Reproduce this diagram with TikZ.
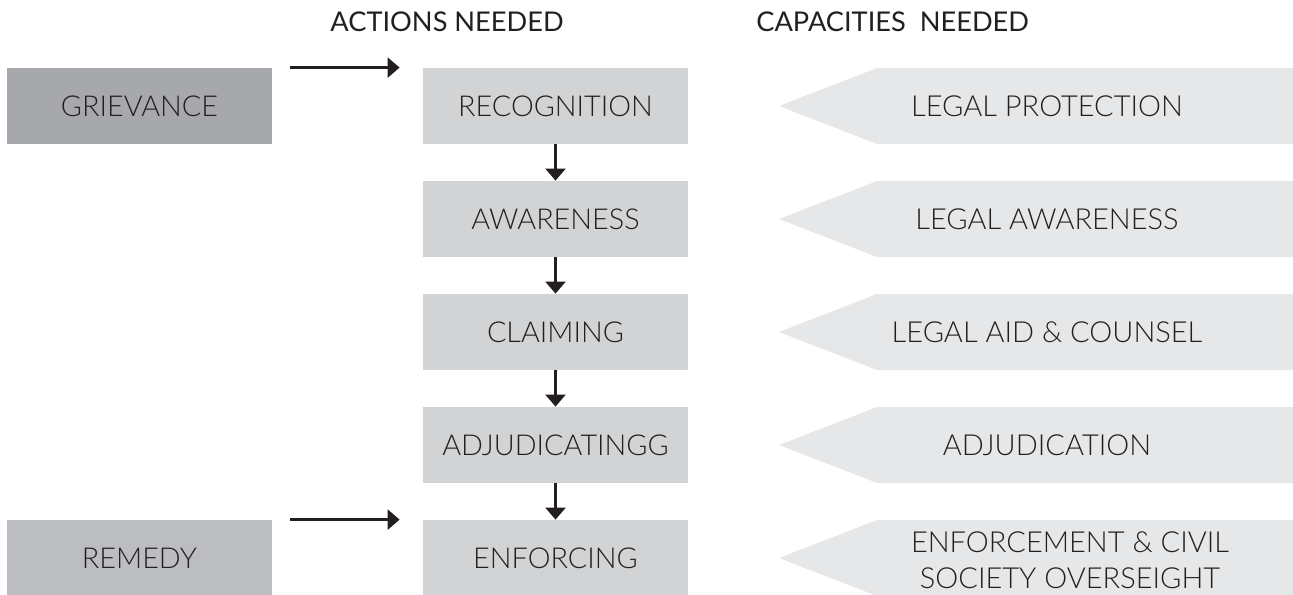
\documentclass[tikz,border=0pt]{standalone}
\usepackage{fontspec}
\setmainfont{Lato}[UprightFont=* Light, BoldFont=* Regular]
\usetikzlibrary{arrows.meta}
\definecolor{ink}{HTML}{231F20}
\definecolor{grievgray}{HTML}{A7A8AB}
\definecolor{remedygray}{HTML}{BCBDC0}
\definecolor{actgray}{HTML}{D1D3D4}
\definecolor{capgray}{HTML}{E6E7E8}

\begin{document}
\begin{tikzpicture}[x=0.5pt,y=-0.5pt,
  box/.style={minimum width=132.5pt,minimum height=38pt,inner sep=0pt,
    font=\fontsize{14.4}{18}\selectfont,text=ink},
  act/.style={box,fill=actgray},
  flow/.style={-{Triangle[length=6pt,width=10pt]},line width=1.2pt,draw=ink},
  capshape/.style={fill=capgray},
  captext/.style={inner sep=0pt,align=center,font=\fontsize{14.5}{18}\selectfont,text=ink},
  colhead/.style={anchor=base west,inner sep=0pt,font=\bfseries\fontsize{13.6}{16}\selectfont,text=ink}]
\useasboundingbox (0,0) rectangle (1293,594);
% ---------- column headings ----------
\node[colhead] (acthead) at (330,31) {ACTIONS NEEDED};
\node[colhead] (caphead) at (756,31) {CAPACITIES\ \ NEEDED};
% ---------- start and end ----------
\node[box,fill=grievgray] (grievance) at (139.5,106) {GRIEVANCE};
\node[box,fill=remedygray] (remedy) at (139.5,558) {REMEDY};
% ---------- actions ----------
\node[act] (recognition) at (555.5,106) {RECOGNITION};
\node[act] (awareness) at (555.5,219) {AWARENESS};
\node[act] (claiming) at (555.5,332) {CLAIMING};
\node[act] (adjudicating) at (555.5,445) {ADJUDICATINGG};
\node[act] (enforcing) at (555.5,558) {ENFORCING};
\draw[flow] ([xshift=9pt]grievance.north east) -- ([xshift=-11.5pt]recognition.north west);
\draw[flow] ([xshift=9pt]remedy.north east) -- ([xshift=-11.5pt]enforcing.north west);
\draw[flow] (recognition) -- (awareness);
\draw[flow] (awareness) -- (claiming);
\draw[flow] (claiming) -- (adjudicating);
\draw[flow] (adjudicating) -- (enforcing);
% ---------- capacities ----------
\fill[capshape] (779,106) -- (877,68) -- (1293,68) -- (1293,144) -- (877,144) -- cycle;
\fill[capshape] (779,219) -- (877,181) -- (1293,181) -- (1293,257) -- (877,257) -- cycle;
\fill[capshape] (779,332) -- (877,294) -- (1293,294) -- (1293,370) -- (877,370) -- cycle;
\fill[capshape] (779,445) -- (877,407) -- (1293,407) -- (1293,483) -- (877,483) -- cycle;
\fill[capshape] (779,558) -- (877,520) -- (1293,520) -- (1293,596) -- (877,596) -- cycle;
\node[captext] (legprot) at (1047,106) {LEGAL PROTECTION};
\node[captext] (legaware) at (1047,219) {LEGAL AWARENESS};
\node[captext] (legaid) at (1047,332) {LEGAL AID \& COUNSEL};
\node[captext] (adjud) at (1047,445) {ADJUDICATION};
\node[captext] (enforce) at (1070,560) {ENFORCEMENT \& CIVIL\\SOCIETY OVERSEIGHT};
\end{tikzpicture}
\end{document}
